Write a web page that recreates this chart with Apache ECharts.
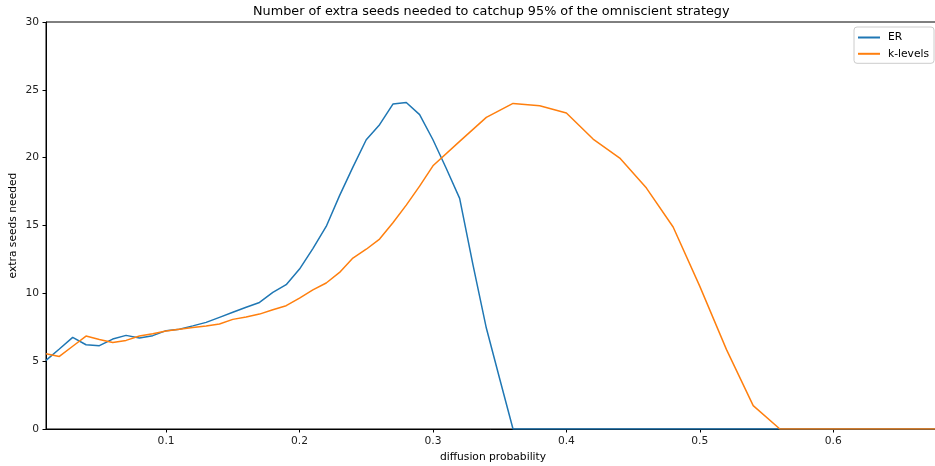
<!DOCTYPE html>
<html>
<head>
<meta charset="utf-8">
<script src="https://cdn.jsdelivr.net/npm/echarts@6/dist/echarts.min.js"></script>
<style>
html,body{margin:0;padding:0;background:#fff;}
#chart{width:935px;height:466px;}
</style>
</head>
<body>
<div id="chart"></div>
<script>
var erProb = [0.01,0.02,0.03,0.04,0.05,0.06,0.07,0.08,0.09,0.10,0.11,0.12,0.13,0.14,0.15,0.16,0.17,0.18,0.19,0.20,0.21,0.22,0.23,0.24,0.25,0.26,0.27,0.28,0.29,0.30,0.31,0.32,0.33,0.34,0.35,0.36,0.38,0.40,0.42,0.44,0.46,0.48,0.50,0.52,0.54,0.56,0.58,0.60,0.62,0.64,0.66,0.68];
var erValues = [5.06,5.9,6.75,6.21,6.14,6.63,6.9,6.7,6.88,7.25,7.35,7.6,7.86,8.23,8.6,8.97,9.33,10.07,10.64,11.79,13.3,14.93,17.2,19.3,21.32,22.43,23.95,24.07,23.17,21.32,19.2,17.0,12.1,7.44,3.7,0,0,0,0,0,0,0,0,0,0,0,0,0,0,0,0,0];
var klProb = [0.01,0.02,0.03,0.04,0.05,0.06,0.07,0.08,0.09,0.10,0.11,0.12,0.13,0.14,0.15,0.16,0.17,0.18,0.19,0.20,0.21,0.22,0.23,0.24,0.25,0.26,0.27,0.28,0.29,0.30,0.32,0.34,0.36,0.38,0.40,0.42,0.44,0.46,0.48,0.50,0.52,0.54,0.56,0.58,0.60,0.62,0.64,0.66,0.68];
var klValues = [5.55,5.35,6.1,6.85,6.6,6.38,6.53,6.85,7.02,7.22,7.35,7.48,7.6,7.74,8.08,8.25,8.47,8.79,9.09,9.65,10.25,10.76,11.54,12.6,13.25,14.0,15.2,16.5,17.9,19.4,21.2,22.97,24.0,23.83,23.29,21.37,19.97,17.76,14.89,10.51,5.85,1.72,0,0,0,0,0,0,0];
var xTicks = [0.1,0.2,0.3,0.4,0.5,0.6];
var seriesNames = ['ER','k-levels'];

function pairs(xs, ys){ return xs.map(function(x,i){ return [x, ys[i]]; }); }

var FONT = 'DejaVu Sans';
var FS = 10.7;
var chart = echarts.init(document.getElementById('chart'), null, {renderer:'canvas'});
chart.setOption({
  backgroundColor:'#fff',
  animation:false,
  title:{
    text:'Number of extra seeds needed to catchup 95% of the omniscient strategy',
    left:253, top:5, padding:0,
    textStyle:{fontFamily:FONT,fontSize:12.8,fontWeight:'normal',color:'#000'}
  },
  legend:{
    orient:'vertical', left:854, top:27,
    padding:[5,5,4,4], itemGap:5.3,
    itemWidth:22, itemHeight:2,
    backgroundColor:'rgba(255,255,255,0.8)',
    borderColor:'#cccccc', borderWidth:1, borderRadius:3,
    textStyle:{fontFamily:FONT,fontSize:FS,color:'#000',padding:[0,0,0,3]},
    data:[
      {name:seriesNames[0], icon:'rect'},
      {name:seriesNames[1], icon:'rect'}
    ]
  },
  grid:{left:46, top:22, width:894, height:407, show:true, borderColor:'#000', borderWidth:1,
        backgroundColor:'transparent', containLabel:false, outerBoundsMode:'none'},
  xAxis:{
    type:'value', min:0.01, max:0.68,
    name:'diffusion probability', nameLocation:'middle', nameGap:23, nameMoveOverlap:false,
    nameTextStyle:{fontFamily:FONT,fontSize:FS,color:'#000'},
    axisLine:{show:true,lineStyle:{color:'#000',width:1}},
    axisTick:{show:true,length:3.5,lineStyle:{color:'#000'},customValues:xTicks},
    axisLabel:{fontFamily:FONT,fontSize:FS,color:'#222',margin:7,customValues:xTicks,
      formatter:function(v){return String(v);}},
    splitLine:{show:false}
  },
  yAxis:{
    type:'value', min:0, max:30, interval:5,
    name:'extra seeds needed', nameLocation:'middle', nameGap:27, nameRotate:90, nameMoveOverlap:false,
    nameTextStyle:{fontFamily:FONT,fontSize:FS,color:'#000'},
    axisLine:{show:true,lineStyle:{color:'#000',width:1}},
    axisTick:{show:true,length:3.5,lineStyle:{color:'#000'}},
    axisLabel:{fontFamily:FONT,fontSize:FS,color:'#222',margin:7},
    splitLine:{show:false}
  },
  series:[
    {name:seriesNames[0], type:'line', data:pairs(erProb,erValues), showSymbol:false, symbol:'none',
     color:'#1f77b4', lineStyle:{width:1.5,color:'#1f77b4'}, z:3},
    {name:seriesNames[1], type:'line', data:pairs(klProb,klValues), showSymbol:false, symbol:'none',
     color:'#ff7f0e', lineStyle:{width:1.5,color:'#ff7f0e'}, z:4}
  ]
});
</script>
</body>
</html>
